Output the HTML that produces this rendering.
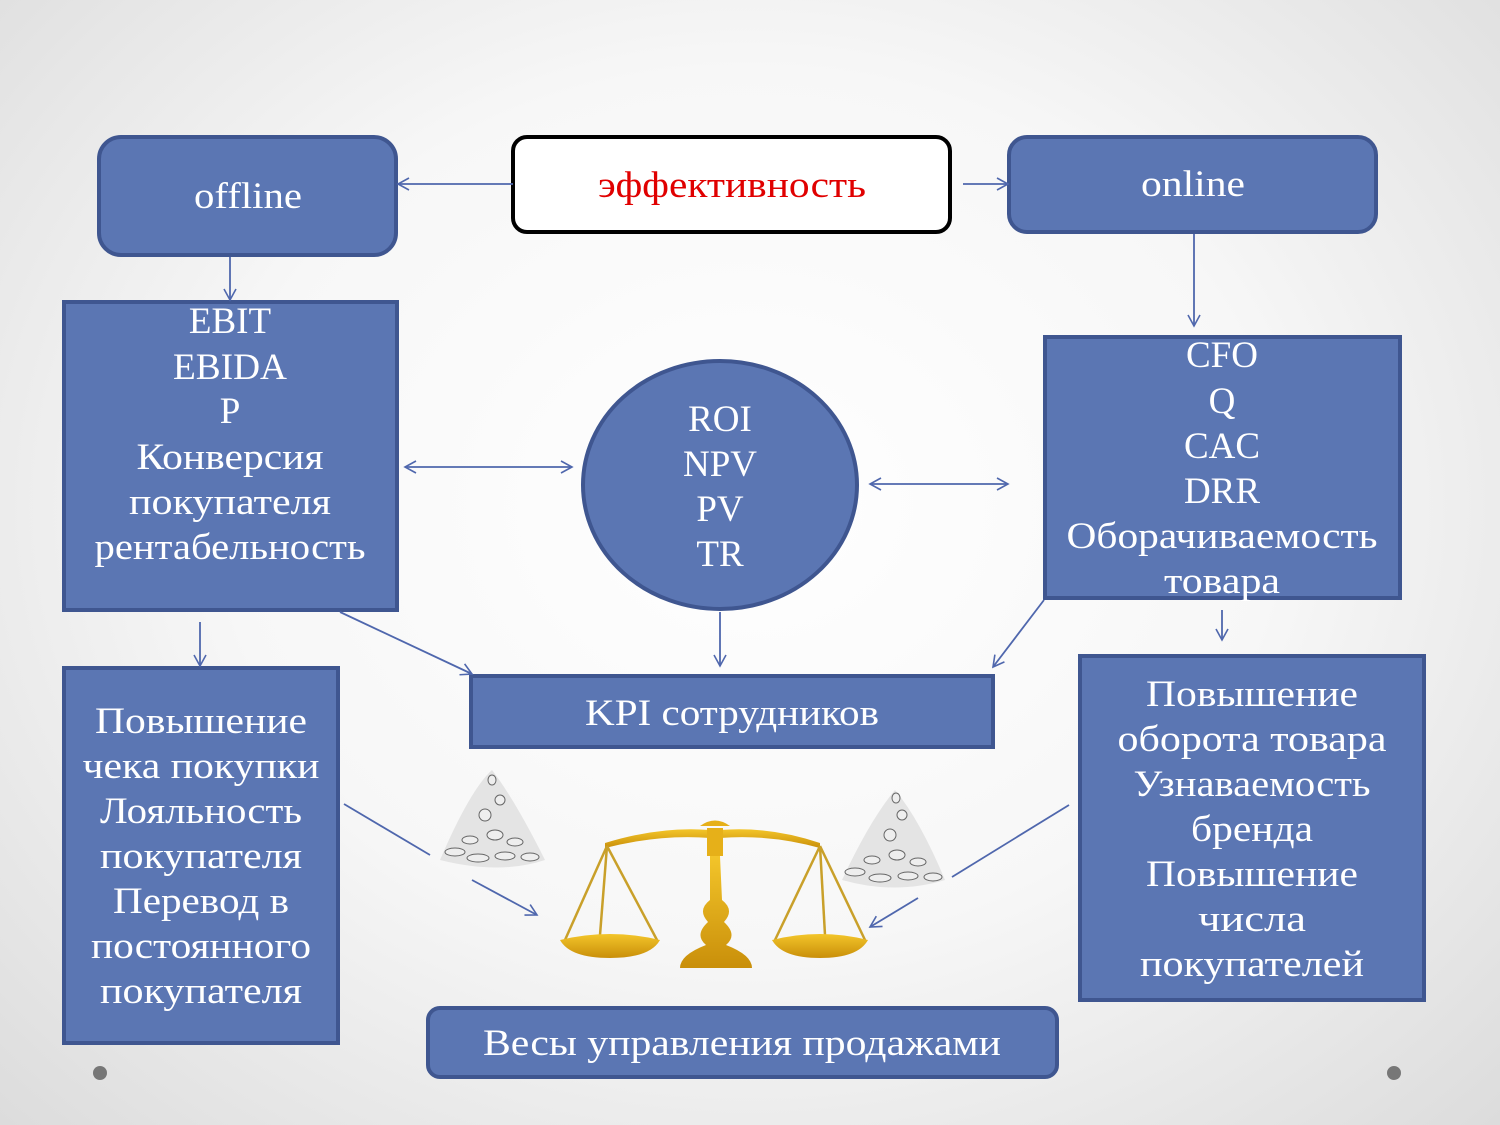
<!DOCTYPE html>
<html><head><meta charset="utf-8"><style>
html,body{margin:0;padding:0;width:1500px;height:1125px;overflow:hidden;}
body{background:radial-gradient(ellipse at 50% 45%, #ffffff 0%, #f7f7f7 50%, #dcdcdc 100%);}
svg{position:absolute;left:0;top:0;}
text{font-family:"Liberation Serif",serif;fill:#fff;text-anchor:middle;}
</style></head><body>
<svg width="1500" height="1125" viewBox="0 0 1500 1125">
<defs>
<marker id="a" markerWidth="14" markerHeight="14" refX="12" refY="7" orient="auto" markerUnits="userSpaceOnUse">
<path d="M1,1 L12,7 L1,13" fill="none" stroke="#4f67ad" stroke-width="1.6"/></marker>
<marker id="s" markerWidth="14" markerHeight="14" refX="2" refY="7" orient="auto" markerUnits="userSpaceOnUse">
<path d="M13,1 L2,7 L13,13" fill="none" stroke="#4f67ad" stroke-width="1.6"/></marker>
<linearGradient id="g" x1="0" x2="0" y1="0" y2="1"><stop offset="0" stop-color="#f3c52a"/><stop offset="1" stop-color="#c98f0a"/></linearGradient>
</defs>
<g fill="#5b76b3" stroke="#3f5690" stroke-width="4">
<rect x="99" y="137" width="297" height="118" rx="22"/>
<rect x="1009" y="137" width="367" height="95" rx="18"/>
<rect x="64" y="302" width="333" height="308"/>
<ellipse cx="720" cy="485" rx="137" ry="124"/>
<rect x="1045" y="337" width="355" height="261"/>
<rect x="471" y="676" width="522" height="71"/>
<rect x="64" y="668" width="274" height="375"/>
<rect x="1080" y="656" width="344" height="344"/>
<rect x="428" y="1008" width="629" height="69" rx="12"/>
</g>
<rect x="513" y="137" width="437" height="95" rx="14" fill="#fff" stroke="#000" stroke-width="4"/>
<g font-size="37" lengthAdjust="spacingAndGlyphs">
<text x="248" y="208" textLength="108" lengthAdjust="spacingAndGlyphs">offline</text>
<text x="732" y="197" style="fill:#e00000" textLength="268" lengthAdjust="spacingAndGlyphs">эффективность</text>
<text x="1193" y="196" textLength="104" lengthAdjust="spacingAndGlyphs">online</text>
<text x="230" y="333">EBIT</text>
<text x="230" y="379" textLength="114" lengthAdjust="spacingAndGlyphs">EBIDA</text>
<text x="230" y="423">P</text>
<text x="230" y="469" textLength="187" lengthAdjust="spacingAndGlyphs">Конверсия</text>
<text x="230" y="514" textLength="202" lengthAdjust="spacingAndGlyphs">покупателя</text>
<text x="230" y="559" textLength="271" lengthAdjust="spacingAndGlyphs">рентабельность</text>
<text x="720" y="431">ROI</text>
<text x="720" y="476">NPV</text>
<text x="720" y="521">PV</text>
<text x="720" y="566">TR</text>
<text x="1222" y="367">CFO</text>
<text x="1222" y="413">Q</text>
<text x="1222" y="458">CAC</text>
<text x="1222" y="503">DRR</text>
<text x="1222" y="548" textLength="311" lengthAdjust="spacingAndGlyphs">Оборачиваемость</text>
<text x="1222" y="593" textLength="116" lengthAdjust="spacingAndGlyphs">товара</text>
<text x="732" y="725" textLength="294" lengthAdjust="spacingAndGlyphs">KPI сотрудников</text>
<text x="201" y="733" textLength="212" lengthAdjust="spacingAndGlyphs">Повышение</text>
<text x="201" y="778" textLength="237" lengthAdjust="spacingAndGlyphs">чека покупки</text>
<text x="201" y="823" textLength="202" lengthAdjust="spacingAndGlyphs">Лояльность</text>
<text x="201" y="868" textLength="202" lengthAdjust="spacingAndGlyphs">покупателя</text>
<text x="201" y="913" textLength="176" lengthAdjust="spacingAndGlyphs">Перевод в</text>
<text x="201" y="958" textLength="220" lengthAdjust="spacingAndGlyphs">постоянного</text>
<text x="201" y="1003" textLength="202" lengthAdjust="spacingAndGlyphs">покупателя</text>
<text x="1252" y="706" textLength="212" lengthAdjust="spacingAndGlyphs">Повышение</text>
<text x="1252" y="751" textLength="269" lengthAdjust="spacingAndGlyphs">оборота товара</text>
<text x="1252" y="796" textLength="237" lengthAdjust="spacingAndGlyphs">Узнаваемость</text>
<text x="1252" y="841" textLength="122" lengthAdjust="spacingAndGlyphs">бренда</text>
<text x="1252" y="886" textLength="212" lengthAdjust="spacingAndGlyphs">Повышение</text>
<text x="1252" y="931" textLength="108" lengthAdjust="spacingAndGlyphs">числа</text>
<text x="1252" y="976" textLength="224" lengthAdjust="spacingAndGlyphs">покупателей</text>
<text x="742" y="1055" textLength="518" lengthAdjust="spacingAndGlyphs">Весы управления продажами</text>
</g>
<g stroke="#4f67ad" stroke-width="1.8" fill="none">
<line x1="513" y1="184" x2="398" y2="184" marker-end="url(#a)"/>
<line x1="963" y1="184" x2="1008" y2="184" marker-end="url(#a)"/>
<line x1="230" y1="257" x2="230" y2="300" marker-end="url(#a)"/>
<line x1="1194" y1="234" x2="1194" y2="326" marker-end="url(#a)"/>
<line x1="405" y1="467" x2="572" y2="467" marker-start="url(#s)" marker-end="url(#a)"/>
<line x1="870" y1="484" x2="1008" y2="484" marker-start="url(#s)" marker-end="url(#a)"/>
<line x1="200" y1="622" x2="200" y2="666" marker-end="url(#a)"/>
<line x1="1222" y1="610" x2="1222" y2="640" marker-end="url(#a)"/>
<line x1="720" y1="612" x2="720" y2="666" marker-end="url(#a)"/>
<line x1="340" y1="612" x2="472" y2="674" marker-end="url(#a)"/>
<line x1="1044" y1="600" x2="993" y2="667" marker-end="url(#a)"/>
<line x1="344" y1="804" x2="430" y2="855"/>
<line x1="472" y1="880" x2="537" y2="915" marker-end="url(#a)"/>
<line x1="1069" y1="805" x2="952" y2="877"/>
<line x1="918" y1="898" x2="870" y2="927" marker-end="url(#a)"/>
</g>
<g fill="#eeeeee" stroke="#666" stroke-width="1">
<path d="M440,860 Q470,790 492,770 Q515,800 545,860 Q500,875 440,860Z" fill="#e4e4e4" stroke="none"/>
<ellipse cx="455" cy="852" rx="10" ry="4"/><ellipse cx="478" cy="858" rx="11" ry="4"/><ellipse cx="505" cy="856" rx="10" ry="4"/><ellipse cx="530" cy="857" rx="9" ry="4"/>
<ellipse cx="470" cy="840" rx="8" ry="4"/><ellipse cx="495" cy="835" rx="8" ry="5"/><ellipse cx="515" cy="842" rx="8" ry="4"/>
<ellipse cx="485" cy="815" rx="6" ry="6"/><ellipse cx="500" cy="800" rx="5" ry="5"/><ellipse cx="492" cy="780" rx="4" ry="5"/>
<path d="M842,880 Q870,820 895,790 Q920,820 945,880 Q895,895 842,880Z" fill="#e4e4e4" stroke="none"/>
<ellipse cx="855" cy="872" rx="10" ry="4"/><ellipse cx="880" cy="878" rx="11" ry="4"/><ellipse cx="908" cy="876" rx="10" ry="4"/><ellipse cx="933" cy="877" rx="9" ry="4"/>
<ellipse cx="872" cy="860" rx="8" ry="4"/><ellipse cx="897" cy="855" rx="8" ry="5"/><ellipse cx="918" cy="862" rx="8" ry="4"/>
<ellipse cx="890" cy="835" rx="6" ry="6"/><ellipse cx="902" cy="815" rx="5" ry="5"/><ellipse cx="896" cy="798" rx="4" ry="5"/>
</g>
<g>
<path d="M605,843 Q660,826 710,830 L720,830 Q770,826 820,843 L820,848 Q770,834 720,838 L710,838 Q660,834 605,848Z" fill="url(#g)"/>
<rect x="707" y="828" width="16" height="28" fill="#e6b019"/>
<path d="M700,826 Q715,815 730,826 Z" fill="#e6b019"/>
<path d="M710,856 L720,856 L722,900 Q735,910 724,922 Q738,935 726,945 Q752,955 752,968 L680,968 Q680,955 706,945 Q694,935 708,922 Q697,910 710,900Z" fill="url(#g)"/>
<g stroke="#c9a02a" stroke-width="2.5" fill="none">
<line x1="607" y1="846" x2="565" y2="940"/><line x1="607" y1="846" x2="600" y2="935"/><line x1="607" y1="846" x2="657" y2="940"/>
<line x1="820" y1="846" x2="775" y2="940"/><line x1="820" y1="846" x2="825" y2="935"/><line x1="820" y1="846" x2="865" y2="940"/>
</g>
<path d="M560,940 Q610,928 660,940 Q650,958 610,958 Q570,958 560,940Z" fill="url(#g)"/>
<path d="M772,940 Q820,928 868,940 Q858,958 820,958 Q782,958 772,940Z" fill="url(#g)"/>
</g>
<circle cx="100" cy="1073" r="7" fill="#777"/>
<circle cx="1394" cy="1073" r="7" fill="#777"/>
</svg>
</body></html>
